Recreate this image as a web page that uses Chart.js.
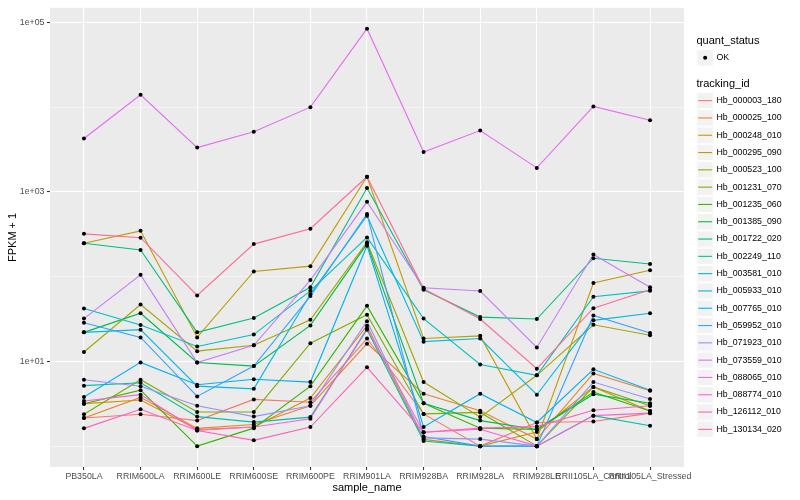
<!DOCTYPE html>
<html>
<head>
<meta charset="utf-8">
<script src="https://cdn.jsdelivr.net/npm/chart.js@4.4.1/dist/chart.umd.min.js"></script>
<style>
  html, body { margin: 0; padding: 0; background: #ffffff; }
  #wrap { width: 800px; height: 500px; }
</style>
</head>
<body>
<div id="wrap"><canvas id="chart" width="800" height="500"></canvas></div>
<script>
// samples along the x axis
const samples = ["PB350LA", "RRIM600LA", "RRIM600LE", "RRIM600SE", "RRIM600PE", "RRIM901LA",
  "RRIM928BA", "RRIM928LA", "RRIM928LE", "RRII105LA_Control", "RRII105LA_Stressed"];

const trackingIds = ["Hb_000003_180", "Hb_000025_100", "Hb_000248_010", "Hb_000295_090", "Hb_000523_100",
  "Hb_001231_070", "Hb_001235_060", "Hb_001385_090", "Hb_001722_020", "Hb_002249_110",
  "Hb_003581_010", "Hb_005933_010", "Hb_007765_010", "Hb_059952_010", "Hb_071923_010",
  "Hb_073559_010", "Hb_088065_010", "Hb_088774_010", "Hb_126112_010", "Hb_130134_020"];

// FPKM + 1 per gene, one value per sample
const hb_000003_180 = [2.15, 2.38, 2.0, 3.56, 3.3, 18.6, 2.4, 1.0, 1.9, 1.95, 2.45];
const hb_000025_100 = [2.15, 3.76, 1.62, 1.8, 3.0, 16.2, 4.15, 2.62, 1.21, 7.2, 4.5];
const hb_000248_010 = [3.17, 3.5, 1.57, 1.68, 3.7, 26.4, 1.2, 1.0, 1.47, 5.0, 2.6];
const hb_000295_090 = [248, 347, 19.2, 115, 133, 1510, 18.6, 20, 1.21, 84, 119];
const hb_000523_100 = [12.9, 46.8, 13.2, 15.5, 31, 255, 5.7, 2.2, 6.85, 27, 20.3];
const hb_001231_070 = [2.38, 6.08, 2.53, 2.53, 16.4, 35.5, 2.4, 2.5, 1.0, 5.0, 3.0];
const hb_001235_060 = [3.17, 4.57, 1.0, 1.63, 5.1, 45.2, 3.2, 1.63, 1.57, 4.34, 2.6];
const hb_001385_090 = [22, 37, 9.7, 8.8, 26.6, 244, 3.2, 2.0, 1.57, 4.1, 3.2];
const hb_001722_020 = [248, 206, 22, 32.5, 75, 1110, 70, 33.3, 31.6, 165, 141];
const hb_002249_110 = [5.17, 5.6, 2.23, 1.92, 2.2, 23.7, 1.15, 1.0, 1.0, 2.29, 1.74];
const hb_003581_010 = [42, 26.9, 15, 20.7, 68, 290, 32, 9.2, 6.85, 58, 68];
const hb_005933_010 = [22, 23.7, 5.1, 4.74, 62, 524, 17.1, 18.6, 4.04, 30.5, 37];
const hb_007765_010 = [3.79, 9.73, 5.3, 6.15, 5.7, 232, 1.68, 4.15, 1.9, 8.07, 4.57];
const hb_059952_010 = [28.6, 19.2, 3.86, 8.8, 59, 549, 1.3, 1.0, 1.0, 34.8, 21.6];
const hb_071923_010 = [6.08, 5.1, 3.0, 2.23, 3.0, 29.8, 1.25, 1.21, 1.0, 5.7, 3.6];
const hb_073559_010 = [32, 105, 9.7, 15.5, 91, 764, 74, 67.6, 14.6, 183, 75];
const hb_088065_010 = [4270, 14000, 3330, 5130, 10000, 84400, 2960, 5300, 1920, 10200, 7010];
const hb_088774_010 = [3.41, 4.05, 1.53, 1.68, 2.1, 24.6, 1.46, 1.58, 1.0, 2.29, 2.45];
const hb_126112_010 = [1.62, 2.72, 1.53, 1.17, 1.68, 8.5, 1.46, 1.63, 1.7, 2.65, 3.0];
const hb_130134_020 = [320, 288, 59.9, 242, 368, 1510, 72, 31.6, 8.2, 42.5, 70];

const fpkm = [hb_000003_180, hb_000025_100, hb_000248_010, hb_000295_090, hb_000523_100,
  hb_001231_070, hb_001235_060, hb_001385_090, hb_001722_020, hb_002249_110,
  hb_003581_010, hb_005933_010, hb_007765_010, hb_059952_010, hb_071923_010,
  hb_073559_010, hb_088065_010, hb_088774_010, hb_126112_010, hb_130134_020];

// y breaks: labelled at odd powers, the rest are minor lines
const yBreaks = [1, 10, 100, 1000, 10000, 100000];

// default ggplot hue colours for 20 groups
const palette = ["#F8766D", "#EA8331", "#D89000", "#C09B00", "#A3A500", "#7CAE00", "#39B600", "#00BB4E",
  "#00BF7D", "#00C1A3", "#00BFC4", "#00BAE0", "#00B0F6", "#35A2FF", "#9590FF", "#C77CFF",
  "#E76BF3", "#FA62DB", "#FF62BC", "#FF6C91"];

const FONT = '"Liberation Sans", Arial, Helvetica, sans-serif';

// log range with 5% expansion like ggplot
const allVals = fpkm.flat();
const lo = Math.log10(Math.min(...allVals));
const hi = Math.log10(Math.max(...allVals));
const pad = (hi - lo) * 0.05;

const isMajor = v => Math.round(Math.log10(v)) % 2 === 1;

// grey panel behind the grid
const panelBg = {
  id: 'panelBg',
  beforeDraw(chart) {
    const { ctx, chartArea: a } = chart;
    ctx.save();
    ctx.fillStyle = '#EBEBEB';
    ctx.fillRect(a.left, a.top, a.right - a.left, a.bottom - a.top);
    ctx.restore();
  }
};

function drawKey(ctx, x, y, w, h) {
  ctx.fillStyle = '#F2F2F2';
  ctx.fillRect(x, y, w, h);
  ctx.strokeStyle = '#FFFFFF';
  ctx.lineWidth = 1;
  ctx.strokeRect(x + 0.5, y + 0.5, w - 1, h - 1);
}

// ggplot style legend on the right
const legendBox = {
  id: 'legendBox',
  afterDraw(chart) {
    const ctx = chart.ctx;
    const x0 = 696.5, k = 17.3;
    ctx.save();
    ctx.textAlign = 'left';
    ctx.textBaseline = 'middle';

    ctx.fillStyle = '#000';
    ctx.font = '11px ' + FONT;
    ctx.fillText('quant_status', x0, 40.5);
    drawKey(ctx, x0, 49, k, k);
    ctx.beginPath();
    ctx.arc(x0 + k / 2, 49 + k / 2, 2, 0, Math.PI * 2);
    ctx.fillStyle = '#000';
    ctx.fill();
    ctx.font = '8.8px ' + FONT;
    ctx.fillText('OK', x0 + k + 2.7, 49 + k / 2);

    ctx.font = '11px ' + FONT;
    ctx.fillText('tracking_id', x0, 84);
    ctx.font = '8.8px ' + FONT;
    trackingIds.forEach((id, i) => {
      const top = 92 + i * k;
      drawKey(ctx, x0, top, k, k);
      ctx.beginPath();
      ctx.moveTo(x0 + 1.7, top + k / 2);
      ctx.lineTo(x0 + k - 1.7, top + k / 2);
      ctx.strokeStyle = palette[i];
      ctx.lineWidth = 1.1;
      ctx.stroke();
      ctx.fillStyle = '#000';
      ctx.fillText(id, x0 + k + 2.7, top + k / 2);
    });
    ctx.restore();
  }
};

const datasets = [];
// lines: later genes drawn on top, like ggplot
trackingIds.forEach((id, i) => {
  datasets.push({
    label: id,
    data: fpkm[i].map((v, j) => ({ x: j, y: v })),
    borderColor: palette[i],
    borderWidth: 1.1,
    pointRadius: 0,
    pointHoverRadius: 0,
    tension: 0,
    fill: false,
    order: trackingIds.length - i + 1
  });
});
// black points above every line
trackingIds.forEach((id, i) => {
  datasets.push({
    label: id + ' OK',
    data: fpkm[i].map((v, j) => ({ x: j, y: v })),
    showLine: false,
    pointRadius: 2,
    pointHoverRadius: 2,
    pointBackgroundColor: '#000000',
    pointBorderWidth: 0,
    order: 0
  });
});

new Chart(document.getElementById('chart'), {
  type: 'line',
  data: { datasets: datasets },
  plugins: [panelBg, legendBox],
  options: {
    responsive: false,
    animation: false,
    layout: { padding: { left: 0, right: 116, top: 5.5, bottom: 0 } },
    plugins: { legend: { display: false }, tooltip: { enabled: false } },
    scales: {
      x: {
        type: 'linear',
        min: -0.6,
        max: samples.length - 0.4,
        afterBuildTicks: s => { s.ticks = samples.map((_, i) => ({ value: i })); },
        afterFit: s => { s.height = 33; },
        ticks: {
          autoSkip: false, maxRotation: 0, minRotation: 0, padding: 1,
          color: '#4D4D4D', font: { family: FONT, size: 8.8 },
          callback: v => samples[v]
        },
        grid: { color: '#FFFFFF', lineWidth: 1.07, tickColor: '#333333', tickLength: 3, tickWidth: 1.07 },
        border: { display: false },
        title: {
          display: true, text: 'sample_name', color: '#000000',
          font: { family: FONT, size: 11 }, padding: { top: 0, bottom: 5.4 }
        }
      },
      y: {
        type: 'logarithmic',
        min: Math.pow(10, lo - pad),
        max: Math.pow(10, hi + pad),
        afterBuildTicks: s => { s.ticks = yBreaks.map(v => ({ value: v })); },
        afterFit: s => { s.width = 50; },
        ticks: {
          autoSkip: false, padding: 2.5,
          color: '#4D4D4D', font: { family: FONT, size: 8.8 },
          callback: v => isMajor(v) ? '1e+' + String(Math.round(Math.log10(v))).padStart(2, '0') : ''
        },
        grid: {
          color: '#FFFFFF',
          lineWidth: c => isMajor(c.tick.value) ? 1.07 : 0.53,
          tickColor: c => isMajor(c.tick.value) ? '#333333' : 'rgba(0,0,0,0)',
          tickLength: 3, tickWidth: 1.07
        },
        border: { display: false },
        title: {
          display: true, text: 'FPKM + 1', color: '#000000',
          font: { family: FONT, size: 11 }, padding: { top: 6.5, bottom: 0 }
        }
      }
    }
  }
});
</script>
</body>
</html>
